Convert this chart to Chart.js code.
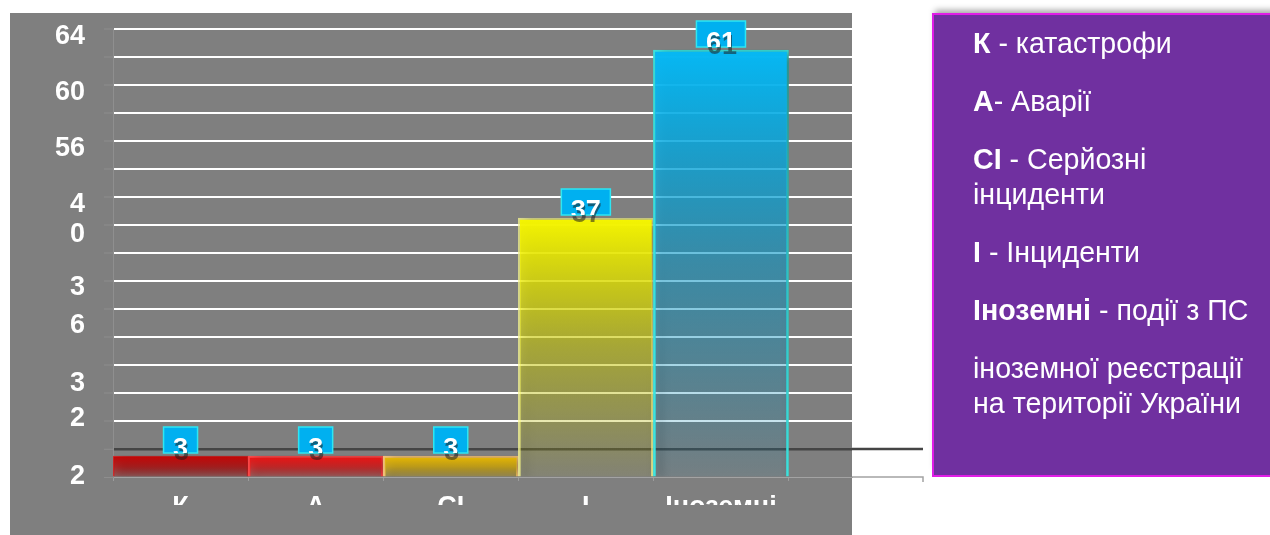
<!DOCTYPE html>
<html lang="uk">
<head>
<meta charset="utf-8">
<script src="https://cdn.jsdelivr.net/npm/chart.js@4.4.1/dist/chart.umd.min.js"></script>
<style>
  html, body { margin: 0; padding: 0; background: #fff; width: 1270px; height: 535px; overflow: hidden; }
  #wrap { position: absolute; left: 10px; top: 13px; width: 920px; height: 522px; }
  #legendBox {
    position: absolute; left: 932px; top: 13px; width: 360px; height: 449px;
    padding: 11px 0 0 39px; background: #7030a0; border: 2px solid #e01ee6;
    box-shadow: 0 -6px 6px -3px rgba(0,0,0,0.35);
    color: #fff; font-family: "Liberation Sans", Arial, sans-serif; font-size: 28.6px;
  }
  #legendText div { line-height: 35px; margin-top: 23px; white-space: nowrap; }
  #legendText div:first-child { margin-top: 0; }
</style>
</head>
<body>
<div id="wrap"><canvas id="chart"></canvas></div>
<div id="legendBox"><div id="legendText">
  <div><b>К</b> - катастрофи</div>
  <div><b>А</b>- Аварії</div>
  <div><b>СІ</b> - Серйозні<br>інциденти</div>
  <div><b>І</b> - Інциденти</div>
  <div><b>Іноземні</b> - події з ПС</div>
  <div>іноземної реєстрації<br>на території України</div>
</div></div>
<script>
// дані
const categories = ['К', 'А', 'СІ', 'І', 'Іноземні'];
const counts = [3, 3, 3, 37, 61];

// підписи осі Y (як на оригіналі) та значення, біля яких вони стоять
const yTickLabels = ['2', '2', '3', '6', '3', '0', '4', '56', '60', '64'];
const yTickValues = [0, 8.3, 13.4, 21.7, 27, 34.6, 38.9, 46.9, 54.9, 62.9];
const yMax = 64;
const yStep = 4;
const xMax = 4.97; // порожнє місце праворуч від останнього стовпця

// кольори стовпців
const barRgb = ['195,5,5', '236,18,18', '232,184,0', '245,245,0', '6,184,244'];
const barBorders = ['rgba(220,40,40,0.9)', '#ff4a4a', '#f3c27a', 'rgba(255,255,150,0.75)', '#3ee6e0'];

const FONT = '"Liberation Sans", Arial, sans-serif';
Chart.defaults.font.family = FONT;

const panelPlugin = {
    id: 'panel',
    beforeDraw(chart) {
        const { ctx, chartArea } = chart;
        ctx.save();
        ctx.fillStyle = '#7f7f7f';
        ctx.fillRect(0, 0, chartArea.right, chart.height);
        ctx.restore();
    },
    beforeDatasetsDraw(chart) {
        // тінь під стовпцями
        const ctx = chart.ctx;
        ctx.save();
        ctx.shadowColor = 'rgba(0,0,0,0.45)';
        ctx.shadowBlur = 10;
        ctx.shadowOffsetX = 5;
        ctx.shadowOffsetY = 2;
    },
    afterDatasetsDraw(chart) {
        const ctx = chart.ctx;
        ctx.restore();

        // підписи значень у блакитних рамках
        const meta = chart.getDatasetMeta(0);
        ctx.save();
        ctx.font = 'bold 27px ' + FONT;
        ctx.textAlign = 'center';
        ctx.textBaseline = 'alphabetic';
        meta.data.forEach((bar, i) => {
            const text = String(counts[i]);
            const w = ctx.measureText(text).width + 19;
            const h = 26;
            const left = bar.x - w / 2;
            const top = bar.y - 3 - h;
            ctx.fillStyle = '#00b0f0';
            ctx.fillRect(left, top, w, h);
            ctx.strokeStyle = '#2ee6f2';
            ctx.lineWidth = 1.5;
            ctx.strokeRect(left, top, w, h);
            ctx.fillStyle = 'rgba(30,30,30,0.55)';
            ctx.fillText(text, bar.x + 1, top + 33);
            ctx.save();
            ctx.beginPath();
            ctx.rect(left, top, w, h);
            ctx.clip();
            ctx.fillStyle = '#ffffff';
            ctx.fillText(text, bar.x, top + 30);
            ctx.restore();
        });
        ctx.restore();
    },
    afterDraw(chart) {
        const { ctx, chartArea } = chart;
        const y = chart.scales.y;
        const r = chartArea.right;
        ctx.save();
        // нижня частина підписів категорій обрізана
        ctx.fillStyle = '#7f7f7f';
        ctx.fillRect(0, chartArea.bottom + 28, r, chart.height);
        // лінії, що виходять за межі сірої панелі
        ctx.strokeStyle = '#454545';
        ctx.lineWidth = 2.5;
        ctx.beginPath();
        ctx.moveTo(r, y.getPixelForValue(4));
        ctx.lineTo(r + 71, y.getPixelForValue(4));
        ctx.stroke();
        ctx.strokeStyle = '#a3a3a3';
        ctx.lineWidth = 1.5;
        ctx.beginPath();
        ctx.moveTo(r, y.getPixelForValue(0));
        ctx.lineTo(r + 71, y.getPixelForValue(0));
        ctx.lineTo(r + 71, y.getPixelForValue(0) + 5);
        ctx.stroke();
        ctx.restore();
    }
};

const barFill = function (context) {
    const i = context.dataIndex;
    const chart = context.chart;
    if (!chart.chartArea || i === undefined) {
        return 'rgba(' + barRgb[0] + ',1)';
    }
    const y = chart.scales.y;
    const top = y.getPixelForValue(counts[i]);
    const bottom = y.getPixelForValue(0);
    const g = chart.ctx.createLinearGradient(0, top, 0, bottom);
    const small = bottom - top < 60;
    g.addColorStop(0, 'rgba(' + barRgb[i] + ',1)');
    g.addColorStop(0.5, 'rgba(' + barRgb[i] + ',' + (small ? 0.7 : 0.45) + ')');
    g.addColorStop(1, 'rgba(' + barRgb[i] + ',' + (small ? 0.25 : 0.06) + ')');
    return g;
};

new Chart(document.getElementById('chart'), {
    type: 'bar',
    data: {
        datasets: [{
            data: counts.map((v, i) => ({ x: i, y: v })),
            backgroundColor: barFill,
            borderColor: barBorders,
            borderWidth: [1, 2, 2, 2, 2],
            barPercentage: 1,
            categoryPercentage: 1,
        }]
    },
    options: {
        responsive: true,
        maintainAspectRatio: false,
        animation: false,
        layout: { padding: { left: 0, top: 16, right: 78, bottom: 0 } },
        plugins: {
            legend: { display: false },
            tooltip: { enabled: false },
        },
        scales: {
            x: {
                type: 'linear', min: -0.5, max: xMax, position: 'bottom', offset: false,
                afterBuildTicks: s => { s.ticks = categories.concat(['']).map((_, i) => ({ value: i - 0.5 })); },
                ticks: { display: false },
                grid: { offset: false, drawOnChartArea: false, drawTicks: true, tickLength: 4, color: '#9c9c9c', lineWidth: 1 },
                border: { display: true, color: '#a3a3a3', width: 1 },
                afterFit: s => { s.height = 4; s.paddingLeft = 0; s.paddingRight = 0; },
            },
            xl: {
                type: 'linear', min: -0.5, max: xMax, position: 'bottom', weight: 1, offset: false,
                afterBuildTicks: s => { s.ticks = categories.map((_, i) => ({ value: i })); },
                ticks: {
                    color: '#ffffff', padding: 10, maxRotation: 0, autoSkip: false,
                    font: { size: 27, weight: 'bold' },
                    callback: v => categories[v] ?? '',
                },
                grid: { display: false, drawTicks: false },
                border: { display: false },
                afterFit: s => { s.height = 54; s.paddingLeft = 0; s.paddingRight = 0; },
            },
            y: {
                min: 0, max: yMax, position: 'left',
                ticks: { display: false, stepSize: yStep },
                grid: {
                    color: c => c.tick.value === 4 ? '#454545' : (c.tick.value === 0 ? '#a3a3a3' : '#ffffff'),
                    lineWidth: c => c.tick.value === 4 ? 2.5 : (c.tick.value === 0 ? 1 : 2),
                    tickColor: '#8e8e8e', tickWidth: 1, tickLength: 9,
                },
                border: { display: true, color: '#8f8f8f', width: 1 },
                afterFit: s => { s.width = 10; s.paddingTop = 0; s.paddingBottom = 0; },
            },
            yl: {
                min: 0, max: yMax, position: 'left', weight: 1,
                afterBuildTicks: s => { s.ticks = yTickValues.map(v => ({ value: v })); },
                ticks: {
                    color: '#ffffff', padding: 18, autoSkip: false,
                    font: { size: 27, weight: 'bold' },
                    callback: (v, i) => yTickLabels[i],
                },
                grid: { display: false, drawTicks: false },
                border: { display: false },
                afterFit: s => { s.width = 93; s.paddingTop = 0; s.paddingBottom = 0; },
            },
        },
    },
    plugins: [panelPlugin],
});
</script>
</body>
</html>
